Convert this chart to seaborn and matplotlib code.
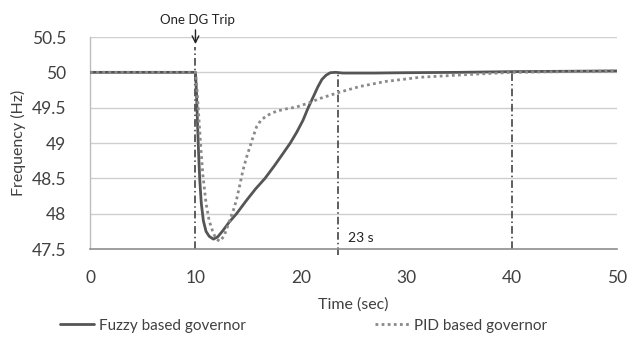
import numpy as np
import pandas as pd
import matplotlib
matplotlib.use("Agg")
import matplotlib.pyplot as plt
import seaborn as sns

# ---- data ----
fuzzy_t = [0, 10.0, 10.1, 10.2, 10.3, 10.4, 10.55, 10.75, 11.0, 11.3, 11.7, 12.1, 12.6,
           13.2, 13.9, 14.8, 15.7, 16.6, 17.5, 18.3, 19.0, 19.6, 20.2, 20.7, 21.2, 21.6,
           22.0, 22.4, 22.8, 23.3, 24, 27, 30, 35, 40, 50]
fuzzy_f = [50, 50, 49.7, 49.25, 48.85, 48.5, 48.15, 47.9, 47.75, 47.68, 47.64, 47.67, 47.76,
           47.88, 48.0, 48.18, 48.35, 48.5, 48.68, 48.85, 49.0, 49.15, 49.32, 49.5, 49.66, 49.79,
           49.9, 49.96, 49.995, 50.0, 49.99, 49.99, 49.995, 50.0, 50.01, 50.02]

pid_t = [0, 10.0, 10.15, 10.3, 10.5, 10.7, 11.0, 11.3, 11.7, 12.0, 12.3, 12.7, 13.0, 13.3,
         13.6, 13.9, 14.2, 14.5, 14.85, 15.2, 15.5, 15.8, 16.2, 16.7, 17.2, 17.7, 18.5, 19.6,
         20.8, 21.8, 23.7, 25.6, 28, 31.3, 36, 40, 45, 50]
pid_f = [50, 50, 49.75, 49.4, 48.95, 48.55, 48.15, 47.9, 47.72, 47.64, 47.61, 47.68, 47.8, 47.93,
         48.05, 48.2, 48.4, 48.61, 48.8, 48.96, 49.1, 49.23, 49.32, 49.38, 49.42, 49.45, 49.48, 49.51,
         49.57, 49.63, 49.72, 49.8, 49.87, 49.93, 49.97, 50.0, 50.01, 50.02]

series_names = ["Fuzzy based governor", "PID based governor"]
x_ticks = [0, 10, 20, 30, 40, 50]
y_ticks = [47.5, 48, 48.5, 49, 49.5, 50, 50.5]
y_tick_labels = ["47.5", "48", "48.5", "49", "49.5", "50", "50.5"]
marker_times = [10, 23.5, 40]
trip_label = "One DG Trip"
settle_label = "23 s"

# ---- figure ----
sns.set_theme(style="white")
plt.rcParams["font.family"] = ["Lato", "DejaVu Sans"]
txt = "#404040"

fig = plt.figure(figsize=(6.39, 3.38), dpi=100)
ax = fig.add_axes([0.141, 0.2633, 0.8245, 0.6272])

df_f = pd.DataFrame({"t": fuzzy_t, "f": fuzzy_f})
df_p = pd.DataFrame({"t": pid_t, "f": pid_f})

for yv in y_ticks:
    ax.axhline(yv, color="#cfcfcf", lw=1.0, zorder=0)

sns.lineplot(data=df_f, x="t", y="f", ax=ax, color="#555555", lw=2.0,
             label=series_names[0], zorder=3, sort=False)
sns.lineplot(data=df_p, x="t", y="f", ax=ax, color="#8a8a8a", lw=2.0,
             ls=(0, (1, 1.2)), label=series_names[1], zorder=4, sort=False)

# dash-dot markers
ax.plot([marker_times[0]] * 2, [47.5, 50.36], color="#333333", lw=1.1,
        ls=(0, (5, 2, 1, 2)), zorder=2)
ax.plot([marker_times[1]] * 2, [47.42, 50.0], color="#333333", lw=1.1,
        ls=(0, (5, 2, 1, 2)), zorder=2, clip_on=False)
ax.plot([marker_times[2]] * 2, [47.5, 50.02], color="#333333", lw=1.1,
        ls=(0, (5, 2, 1, 2)), zorder=2)

ax.annotate("", xy=(marker_times[0], 50.36), xytext=(marker_times[0], 50.64),
            arrowprops=dict(arrowstyle="->", color="#222222", lw=1.0,
                            mutation_scale=12), annotation_clip=False)
ax.text(marker_times[0] + 0.15, 50.74, trip_label, ha="center", va="center",
        fontsize=9.5, color="#222222", clip_on=False)
ax.text(24.45, 47.66, settle_label, ha="left", va="center", fontsize=10,
        color="#222222")

ax.set_xlim(0, 50)
ax.set_ylim(47.5, 50.5)
ax.set_xticks(x_ticks)
ax.set_yticks(y_ticks)
ax.set_yticklabels(y_tick_labels)
ax.tick_params(axis="both", length=0, labelsize=12.5, colors=txt)
ax.tick_params(axis="y", pad=17)
ax.tick_params(axis="x", pad=15)

for s in ["top", "right"]:
    ax.spines[s].set_visible(False)
ax.spines["left"].set_color("#bdbdbd")
ax.spines["bottom"].set_color("#8f8f8f")
ax.spines["left"].set_linewidth(1.0)
ax.spines["bottom"].set_linewidth(1.2)

ax.set_xlabel("Time (sec)", fontsize=11.5, color=txt, labelpad=8)
ax.set_ylabel("Frequency (Hz)", fontsize=11.5, color=txt, labelpad=4)

handles, labels = ax.get_legend_handles_labels()
ax.get_legend().remove()
fig.legend(handles, labels, loc="lower center", bbox_to_anchor=(0.475, -0.025),
           ncol=2, frameon=False, fontsize=11, handlelength=2.2,
           columnspacing=8.5, handletextpad=0.3, labelcolor=txt)

fig.savefig("out.png", dpi=100, facecolor="white")
